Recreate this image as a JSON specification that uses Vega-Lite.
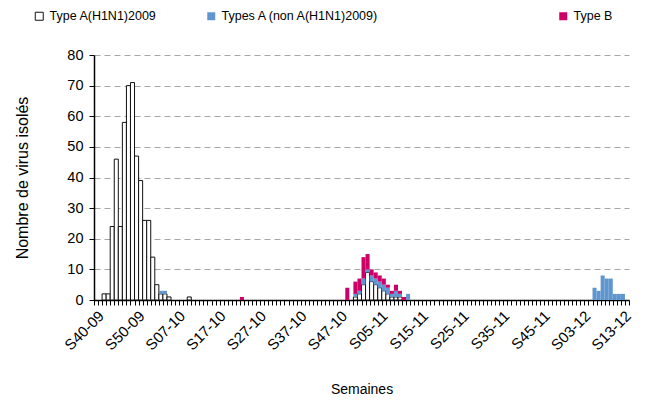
{
  "$schema": "https://vega.github.io/schema/vega-lite/v6.json",
  "autosize": {"type": "none"},
  "width": 535,
  "height": 245,
  "padding": {"left": 94, "top": 55, "right": 18, "bottom": 103},
  "background": "#ffffff",
  "config": {
    "view": {"stroke": null},
    "font": "Liberation Sans",
    "axis": {"labelFont": "Liberation Sans", "titleFont": "Liberation Sans", "labelColor": "#000", "titleColor": "#000", "titleFontWeight": "normal"},
    "legend": {"labelFont": "Liberation Sans", "labelColor": "#000", "labelLimit": 400}
  },
  "data": {
    "values": [
      {"week": "S42-09", "type": "Type A(H1N1)2009", "n": 2},
      {"week": "S43-09", "type": "Type A(H1N1)2009", "n": 2},
      {"week": "S44-09", "type": "Type A(H1N1)2009", "n": 24},
      {"week": "S45-09", "type": "Type A(H1N1)2009", "n": 46},
      {"week": "S46-09", "type": "Type A(H1N1)2009", "n": 24},
      {"week": "S47-09", "type": "Type A(H1N1)2009", "n": 58},
      {"week": "S48-09", "type": "Type A(H1N1)2009", "n": 70},
      {"week": "S49-09", "type": "Type A(H1N1)2009", "n": 71},
      {"week": "S50-09", "type": "Type A(H1N1)2009", "n": 47},
      {"week": "S51-09", "type": "Type A(H1N1)2009", "n": 39},
      {"week": "S52-09", "type": "Type A(H1N1)2009", "n": 26},
      {"week": "S53-09", "type": "Type A(H1N1)2009", "n": 26},
      {"week": "S01-10", "type": "Type A(H1N1)2009", "n": 14},
      {"week": "S02-10", "type": "Type A(H1N1)2009", "n": 5},
      {"week": "S03-10", "type": "Type A(H1N1)2009", "n": 2},
      {"week": "S04-10", "type": "Type A(H1N1)2009", "n": 2},
      {"week": "S05-10", "type": "Type A(H1N1)2009", "n": 1},
      {"week": "S10-10", "type": "Type A(H1N1)2009", "n": 1},
      {"week": "S51-10", "type": "Type A(H1N1)2009", "n": 1},
      {"week": "S52-10", "type": "Type A(H1N1)2009", "n": 2},
      {"week": "S01-11", "type": "Type A(H1N1)2009", "n": 5},
      {"week": "S02-11", "type": "Type A(H1N1)2009", "n": 9},
      {"week": "S03-11", "type": "Type A(H1N1)2009", "n": 6},
      {"week": "S04-11", "type": "Type A(H1N1)2009", "n": 5},
      {"week": "S05-11", "type": "Type A(H1N1)2009", "n": 4},
      {"week": "S06-11", "type": "Type A(H1N1)2009", "n": 3},
      {"week": "S07-11", "type": "Type A(H1N1)2009", "n": 2},
      {"week": "S08-11", "type": "Type A(H1N1)2009", "n": 1},
      {"week": "S09-11", "type": "Type A(H1N1)2009", "n": 1},
      {"week": "S10-11", "type": "Type A(H1N1)2009", "n": 1},
      {"week": "S03-10", "type": "Types A (non A(H1N1)2009)", "n": 1},
      {"week": "S04-10", "type": "Types A (non A(H1N1)2009)", "n": 1},
      {"week": "S51-10", "type": "Types A (non A(H1N1)2009)", "n": 1},
      {"week": "S52-10", "type": "Types A (non A(H1N1)2009)", "n": 1},
      {"week": "S01-11", "type": "Types A (non A(H1N1)2009)", "n": 2},
      {"week": "S02-11", "type": "Types A (non A(H1N1)2009)", "n": 1},
      {"week": "S03-11", "type": "Types A (non A(H1N1)2009)", "n": 2},
      {"week": "S04-11", "type": "Types A (non A(H1N1)2009)", "n": 2},
      {"week": "S05-11", "type": "Types A (non A(H1N1)2009)", "n": 2},
      {"week": "S06-11", "type": "Types A (non A(H1N1)2009)", "n": 2},
      {"week": "S07-11", "type": "Types A (non A(H1N1)2009)", "n": 2},
      {"week": "S08-11", "type": "Types A (non A(H1N1)2009)", "n": 1},
      {"week": "S09-11", "type": "Types A (non A(H1N1)2009)", "n": 2},
      {"week": "S10-11", "type": "Types A (non A(H1N1)2009)", "n": 1},
      {"week": "S12-11", "type": "Types A (non A(H1N1)2009)", "n": 2},
      {"week": "S06-12", "type": "Types A (non A(H1N1)2009)", "n": 4},
      {"week": "S07-12", "type": "Types A (non A(H1N1)2009)", "n": 3},
      {"week": "S08-12", "type": "Types A (non A(H1N1)2009)", "n": 8},
      {"week": "S09-12", "type": "Types A (non A(H1N1)2009)", "n": 7},
      {"week": "S10-12", "type": "Types A (non A(H1N1)2009)", "n": 7},
      {"week": "S11-12", "type": "Types A (non A(H1N1)2009)", "n": 2},
      {"week": "S12-12", "type": "Types A (non A(H1N1)2009)", "n": 2},
      {"week": "S13-12", "type": "Types A (non A(H1N1)2009)", "n": 2},
      {"week": "S23-10", "type": "Type B", "n": 1},
      {"week": "S49-10", "type": "Type B", "n": 4},
      {"week": "S51-10", "type": "Type B", "n": 4},
      {"week": "S52-10", "type": "Type B", "n": 4},
      {"week": "S01-11", "type": "Type B", "n": 7},
      {"week": "S02-11", "type": "Type B", "n": 5},
      {"week": "S03-11", "type": "Type B", "n": 2},
      {"week": "S04-11", "type": "Type B", "n": 2},
      {"week": "S05-11", "type": "Type B", "n": 2},
      {"week": "S06-11", "type": "Type B", "n": 2},
      {"week": "S07-11", "type": "Type B", "n": 1},
      {"week": "S08-11", "type": "Type B", "n": 1},
      {"week": "S09-11", "type": "Type B", "n": 2},
      {"week": "S10-11", "type": "Type B", "n": 1},
      {"week": "S11-11", "type": "Type B", "n": 1}
    ]
  },
  "transform": [
    {"stack": "n", "groupby": ["week"], "as": ["y0", "y1"]}
  ],
  "encoding": {
    "x": {
      "field": "week", "type": "ordinal",
      "scale": {
        "paddingInner": 0, "paddingOuter": 0,
        "domain": ["S40-09","S41-09","S42-09","S43-09","S44-09","S45-09","S46-09","S47-09","S48-09","S49-09","S50-09","S51-09","S52-09","S53-09",
          "S01-10","S02-10","S03-10","S04-10","S05-10","S06-10","S07-10","S08-10","S09-10","S10-10","S11-10","S12-10","S13-10","S14-10","S15-10","S16-10","S17-10","S18-10","S19-10","S20-10","S21-10","S22-10","S23-10","S24-10","S25-10","S26-10","S27-10","S28-10","S29-10","S30-10","S31-10","S32-10","S33-10","S34-10","S35-10","S36-10","S37-10","S38-10","S39-10","S40-10","S41-10","S42-10","S43-10","S44-10","S45-10","S46-10","S47-10","S48-10","S49-10","S50-10","S51-10","S52-10",
          "S01-11","S02-11","S03-11","S04-11","S05-11","S06-11","S07-11","S08-11","S09-11","S10-11","S11-11","S12-11","S13-11","S14-11","S15-11","S16-11","S17-11","S18-11","S19-11","S20-11","S21-11","S22-11","S23-11","S24-11","S25-11","S26-11","S27-11","S28-11","S29-11","S30-11","S31-11","S32-11","S33-11","S34-11","S35-11","S36-11","S37-11","S38-11","S39-11","S40-11","S41-11","S42-11","S43-11","S44-11","S45-11","S46-11","S47-11","S48-11","S49-11","S50-11","S51-11","S52-11",
          "S01-12","S02-12","S03-12","S04-12","S05-12","S06-12","S07-12","S08-12","S09-12","S10-12","S11-12","S12-12","S13-12","S14-12"]
      },
      "axis": {
        "title": "Semaines",
        "titleFontSize": 14,
        "titleY": 93,
        "titleBaseline": "alphabetic",
        "labelAngle": -45,
        "labelFontSize": 15,
        "labelPadding": 3,
        "labelOverlap": false,
        "labelExpr": "indexof(['S40-09','S50-09','S07-10','S17-10','S27-10','S37-10','S47-10','S05-11','S15-11','S25-11','S35-11','S45-11','S03-12','S13-12'], datum.value) >= 0 ? datum.value : ''",
        "tickBand": "extent",
        "tickSize": 5,
        "tickColor": "#000",
        "domainColor": "#000",
        "domainWidth": 1.5,
        "grid": false
      }
    },
    "y": {
      "field": "y1", "type": "quantitative",
      "scale": {"domain": [0, 80], "nice": false},
      "axis": {
        "title": "Nombre de virus isolés",
        "titleFontSize": 16,
        "titleX": -67,
        "titleBaseline": "alphabetic",
        "values": [0, 10, 20, 30, 40, 50, 60, 70, 80],
        "labelFontSize": 14.5,
        "labelPadding": 6,
        "tickSize": 5,
        "tickColor": "#000",
        "domainColor": "#000",
        "domainWidth": 1.5,
        "grid": true,
        "gridColor": "#a6a6a6",
        "gridDash": [6, 4],
        "gridWidth": 1
      }
    },
    "y2": {"field": "y0"}
  },
  "layer": [
    {
      "transform": [{"filter": {"field": "type", "equal": "Type A(H1N1)2009"}}],
      "mark": {"type": "bar", "stroke": "#111", "strokeWidth": 1},
      "encoding": {
        "fill": {
          "field": "type", "type": "nominal",
          "scale": {"range": ["#ffffff"]},
          "legend": {"title": null, "orient": "none", "legendX": -61, "legendY": -45, "symbolType": "square", "symbolSize": 64, "symbolStrokeColor": "#111", "symbolStrokeWidth": 1, "labelFontSize": 12.5, "labelOffset": 4}
        }
      }
    },
    {
      "transform": [{"filter": {"field": "type", "equal": "Types A (non A(H1N1)2009)"}}],
      "mark": {"type": "bar", "strokeWidth": 0},
      "encoding": {
        "fill": {
          "field": "type", "type": "nominal",
          "scale": {"range": ["#6096cf"]},
          "legend": {"title": null, "orient": "none", "legendX": 111, "legendY": -45, "symbolType": "square", "symbolSize": 64, "symbolStrokeWidth": 0, "labelFontSize": 12.5, "labelOffset": 4}
        }
      }
    },
    {
      "transform": [{"filter": {"field": "type", "equal": "Type B"}}],
      "mark": {"type": "bar", "strokeWidth": 0},
      "encoding": {
        "fill": {
          "field": "type", "type": "nominal",
          "scale": {"range": ["#cc0066"]},
          "legend": {"title": null, "orient": "none", "legendX": 463, "legendY": -45, "symbolType": "square", "symbolSize": 64, "symbolStrokeWidth": 0, "labelFontSize": 12.5, "labelOffset": 4}
        }
      }
    }
  ],
  "resolve": {"scale": {"fill": "independent"}, "legend": {"fill": "independent"}}
}
